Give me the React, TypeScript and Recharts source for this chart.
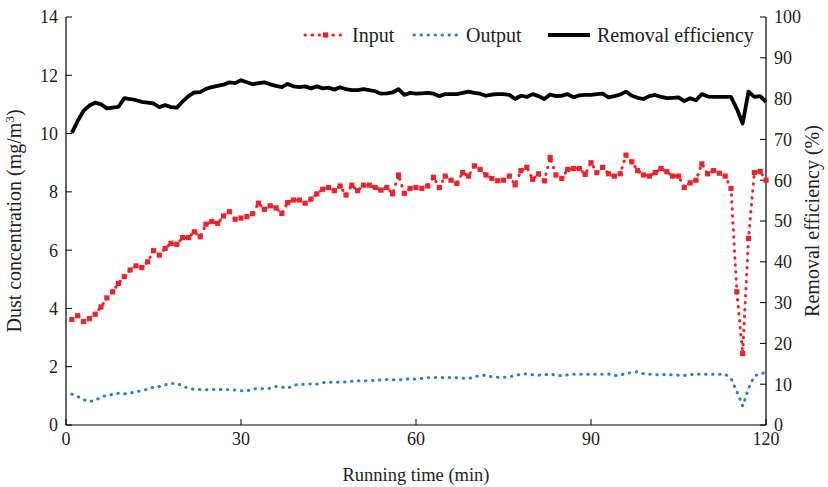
import { Legend, Line, LineChart, XAxis, YAxis } from "recharts";

// Series colors, picked off the reference plot.
const RED = "#ee2229";
const BLUE = "#2a7fd3";
const INK = "#000000";
const FONT = "'Liberation Serif', 'Times New Roman', serif";

// Sampling times, one reading per minute.
const MINUTES = Array.from({ length: 120 }, (_, i) => i + 1);

// Inlet dust concentration (mg/m3)
const INPUT = [
  3.62, 3.75, 3.55, 3.65, 3.8, 4.05, 4.36, 4.57, 4.86, 5.09,
  5.32, 5.46, 5.4, 5.6, 5.98, 5.83, 6.06, 6.23, 6.2, 6.43,
  6.43, 6.63, 6.46, 6.89, 6.98, 6.92, 7.17, 7.32, 7.06, 7.1,
  7.15, 7.25, 7.61, 7.4, 7.52, 7.45, 7.26, 7.63, 7.72, 7.72,
  7.61, 7.75, 7.93, 8.09, 8.15, 8.04, 8.2, 7.89, 8.23, 8.04,
  8.23, 8.23, 8.15, 8.06, 8.15, 7.93, 8.58, 7.95, 8.12, 8.15,
  8.12, 8.2, 8.5, 8.15, 8.54, 8.4, 8.29, 8.66, 8.54, 8.89,
  8.77, 8.58, 8.46, 8.38, 8.4, 8.54, 8.24, 8.73, 8.84, 8.43,
  8.62, 8.38, 9.18, 8.58, 8.46, 8.77, 8.8, 8.8, 8.6, 9.0,
  8.66, 8.84, 8.62, 8.54, 8.62, 9.26, 9.03, 8.73, 8.58, 8.54,
  8.66, 8.8, 8.69, 8.54, 8.54, 8.15, 8.31, 8.4, 8.96, 8.62,
  8.73, 8.64, 8.54, 8.12, 4.57, 2.45, 6.4, 8.66, 8.7, 8.4,
];

// Outlet dust concentration (mg/m3)
const OUTPUT = [
  1.06, 0.98, 0.87, 0.8, 0.85, 0.95, 1.02, 1.05, 1.09, 1.07,
  1.1, 1.14, 1.18, 1.23, 1.3, 1.32, 1.38, 1.42, 1.43, 1.34,
  1.26, 1.22, 1.22, 1.21, 1.22, 1.21, 1.22, 1.21, 1.2, 1.18,
  1.17, 1.24, 1.25, 1.24, 1.26, 1.32, 1.3, 1.26, 1.36, 1.4,
  1.4, 1.41, 1.4, 1.45, 1.47, 1.46, 1.47, 1.48, 1.5, 1.52,
  1.52, 1.52, 1.53, 1.55, 1.56, 1.55, 1.55, 1.56, 1.59, 1.57,
  1.6, 1.62, 1.63, 1.63, 1.63, 1.63, 1.62, 1.61, 1.59, 1.66,
  1.69, 1.71, 1.65, 1.64, 1.64, 1.65, 1.7, 1.74, 1.75, 1.72,
  1.71, 1.72, 1.75, 1.71, 1.69, 1.72, 1.74, 1.74, 1.74, 1.74,
  1.74, 1.74, 1.75, 1.69, 1.72, 1.76, 1.8, 1.83, 1.76, 1.74,
  1.73, 1.72, 1.74, 1.72, 1.71, 1.7, 1.73, 1.75, 1.74, 1.74,
  1.74, 1.74, 1.74, 1.6, 1.15, 0.65, 1.25, 1.68, 1.76, 1.8,
];

// Removal efficiency (%)
const EFFICIENCY = [
  71.6, 74.5, 77.0, 78.3, 79.0, 78.6, 77.6, 77.8, 78.0, 80.1,
  79.9, 79.6, 79.2, 79.0, 78.8, 77.9, 78.4, 77.9, 77.8, 79.3,
  80.6, 81.5, 81.6, 82.4, 82.8, 83.1, 83.4, 84.0, 83.8, 84.5,
  84.0, 83.5, 83.8, 84.0, 83.5, 83.1, 82.8, 83.6, 83.0, 82.8,
  83.0, 82.5, 83.0, 82.5, 82.7, 82.2, 82.8, 82.3, 82.1, 82.1,
  82.3, 82.1, 81.8, 81.2, 81.3, 81.5, 82.3, 80.9, 81.4, 81.2,
  81.3, 81.4, 81.2, 80.6, 81.1, 81.1, 81.1, 81.4, 81.7, 81.4,
  81.2, 80.7, 81.0, 81.1, 81.1, 80.9, 79.9, 80.7, 80.4, 81.1,
  80.6, 79.9, 81.0, 80.6, 80.7, 81.1, 80.3, 80.8, 80.9, 80.9,
  81.1, 81.2, 80.3, 80.6, 81.0, 81.7, 80.7, 80.2, 79.9, 80.6,
  80.9, 80.4, 80.1, 80.2, 80.3, 79.4, 80.1, 79.6, 81.1, 80.5,
  80.4, 80.4, 80.4, 80.4, 77.5, 73.9, 81.7, 80.4, 80.6, 79.2,
];

const X_TICKS = [0, 30, 60, 90, 120];
const LEFT_TICKS = [0, 2, 4, 6, 8, 10, 12, 14];
const RIGHT_TICKS = [0, 10, 20, 30, 40, 50, 60, 70, 80, 90, 100];

const tickStyle = { fontSize: 18, fill: "#222", fontFamily: FONT };
const axisLine = { stroke: INK, strokeWidth: 1.2 };

function SquareDot(props: any) {
  const { cx, cy, index } = props;
  if (cx == null || cy == null) return null;
  return <rect key={`sq-${index}`} x={cx - 2.6} y={cy - 2.6} width={5.2} height={5.2} fill={RED} />;
}

function LeftTitle(props: any) {
  const vb = props.viewBox;
  const cx = vb.x - 5;
  const cy = vb.y + vb.height / 2;
  return (
    <text
      x={cx}
      y={cy}
      transform={`rotate(-90 ${cx} ${cy})`}
      textAnchor="middle"
      fontFamily={FONT}
      fontSize={20}
      fill="#222"
    >
      Dust concentration (mg/m
      <tspan dy={-7} fontSize={13}>3</tspan>
      <tspan dy={7}>)</tspan>
    </text>
  );
}

function RightTitle(props: any) {
  const vb = props.viewBox;
  const cx = vb.x + vb.width + 13;
  const cy = vb.y + vb.height / 2;
  return (
    <text
      x={cx}
      y={cy}
      transform={`rotate(-90 ${cx} ${cy})`}
      textAnchor="middle"
      fontFamily={FONT}
      fontSize={20}
      fill="#222"
    >
      Removal efficiency (%)
    </text>
  );
}

function ChartLegend() {
  return (
    <svg width={470} height={26} style={{ display: "block" }}>
      <line x1={5} y1={13} x2={45} y2={13} stroke={RED} strokeWidth={3} strokeDasharray="0.5 6.5" strokeLinecap="round" />
      <rect x={23} y={10.4} width={5.2} height={5.2} fill={RED} />
      <text x={52} y={19.5} fontFamily={FONT} fontSize={20} fill="#222">Input</text>
      <line x1={114} y1={13} x2={158} y2={13} stroke={BLUE} strokeWidth={3} strokeDasharray="0.5 6.5" strokeLinecap="round" />
      <text x={166} y={19.5} fontFamily={FONT} fontSize={20} fill="#222">Output</text>
      <line x1={248} y1={13} x2={290} y2={13} stroke={INK} strokeWidth={4} />
      <text x={297} y={19.5} fontFamily={FONT} fontSize={20} fill="#222">Removal efficiency</text>
    </svg>
  );
}

export default function App() {
  const data = MINUTES.map((t, i) => ({
    t,
    input: INPUT[i],
    output: OUTPUT[i],
    efficiency: EFFICIENCY[i],
  }));

  return (
    <div style={{ position: "absolute", left: 0, top: 0, width: 828, height: 487, background: "#fff" }}>
      <LineChart width={828} height={487} data={data} margin={{ top: 17, right: 22, bottom: 32, left: 26 }}>
        <XAxis
          dataKey="t"
          type="number"
          domain={[0, 120]}
          ticks={X_TICKS}
          tick={tickStyle}
          tickSize={-6}
          tickMargin={13}
          tickLine={{ stroke: INK }}
          axisLine={axisLine}
          height={30}
          label={{
            value: "Running time (min)",
            position: "bottom",
            offset: 13,
            style: { fontSize: 18.5, fill: "#222", fontFamily: FONT },
          }}
        />
        <YAxis
          yAxisId="left"
          domain={[0, 14]}
          ticks={LEFT_TICKS}
          tick={tickStyle}
          tickSize={-6}
          tickMargin={14}
          tickLine={{ stroke: INK }}
          axisLine={axisLine}
          width={40}
          label={{ content: LeftTitle }}
        />
        <YAxis
          yAxisId="right"
          orientation="right"
          domain={[0, 100]}
          ticks={RIGHT_TICKS}
          tick={tickStyle}
          tickSize={-6}
          tickMargin={14}
          tickLine={{ stroke: INK }}
          axisLine={axisLine}
          width={40}
          label={{ content: RightTitle }}
        />
        <Legend
          layout="horizontal"
          verticalAlign="middle"
          align="center"
          content={() => <ChartLegend />}
          wrapperStyle={{ position: "absolute", left: 300, top: 22, width: 470, height: 26 }}
        />
        <Line
          yAxisId="right"
          dataKey="efficiency"
          type="linear"
          stroke={INK}
          strokeWidth={3.8}
          strokeLinejoin="round"
          dot={false}
          isAnimationActive={false}
        />
        <Line
          yAxisId="left"
          dataKey="input"
          type="linear"
          stroke={RED}
          strokeWidth={3}
          strokeDasharray="0.5 6.5"
          strokeLinecap="round"
          dot={SquareDot}
          isAnimationActive={false}
        />
        <Line
          yAxisId="left"
          dataKey="output"
          type="linear"
          stroke={BLUE}
          strokeWidth={3}
          strokeDasharray="0.5 6.5"
          strokeLinecap="round"
          dot={false}
          isAnimationActive={false}
        />
      </LineChart>
    </div>
  );
}
